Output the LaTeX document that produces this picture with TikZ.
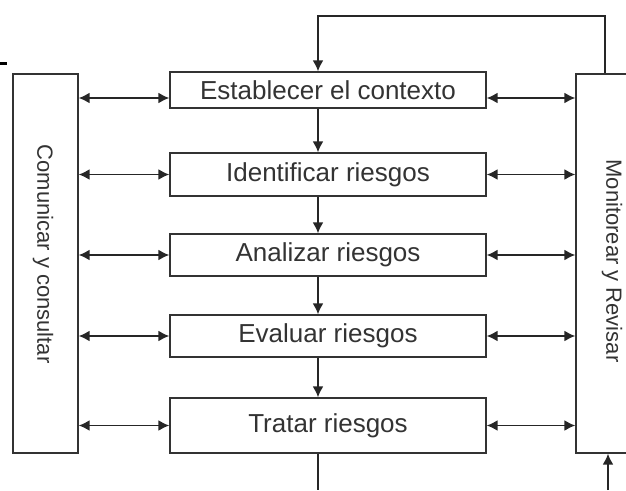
\documentclass[tikz,border=0pt]{standalone}
\usepackage{fontspec}
\setmainfont{Liberation Sans}
\usetikzlibrary{positioning,calc,arrows.meta}

\begin{document}
\begin{tikzpicture}[
    x=1pt, y=-1pt,
    font=\fontsize{26}{30}\selectfont,
    linea/.style={draw=black!85, line width=1.6pt},
    flecha/.style={linea, -{Latex[length=11pt,width=11pt]}},
    dflecha/.style={linea, {Latex[length=11pt,width=11pt]}-{Latex[length=11pt,width=11pt]}},
    paso/.style={rectangle, draw=black!80, line width=1.4pt, text=black!80,
    minimum width=316pt, inner sep=0pt},
    lado/.style={rectangle, draw=black!80, line width=1.4pt, text=black!80,
    minimum width=65pt, minimum height=379pt, inner sep=0pt},
    rotulo/.style={rotate=-90, text=black!80, font=\fontsize{22}{26}\selectfont}
    ]
\useasboundingbox (0,0) rectangle (626,490);
\clip (0,0) rectangle (626,490);

% pasos del centro
\node[paso, minimum height=36pt] (est) at (328,90) {Establecer el contexto};
\node[paso, minimum height=43pt] (ide) at (328,174.5) {Identificar riesgos};
\node[paso, minimum height=42pt] (ana) at (328,255) {Analizar riesgos};
\node[paso, minimum height=42pt] (eva) at (328,336) {Evaluar riesgos};
\node[paso, minimum height=55pt] (tra) at (328,425.5) {Tratar riesgos};

% cajas laterales
\node[lado] (com) at (45.5,263.5) {};
\node[rotulo] at (43,254) {Comunicar y consultar};
\node[lado] (mon) at (608.5,263.5) {};
\node[rotulo] at (612,261) {Monitorear y Revisar};

\coordinate (flujo) at (318,0);
\coordinate (arriba) at (605,16);
\coordinate (abajoA) at (318,490);
\coordinate (abajoB) at (608,490);

% flechas verticales
\draw[flecha] (est.south -| flujo) -- (ide.north -| flujo);
\draw[flecha] (ide.south -| flujo) -- (ana.north -| flujo);
\draw[flecha] (ana.south -| flujo) -- (eva.north -| flujo);
\draw[flecha] (eva.south -| flujo) -- (tra.north -| flujo);
\draw[linea] (tra.south -| flujo) -- (abajoA);
\draw[flecha] (abajoB) -- (abajoB |- mon.south);

% retorno superior
\draw[flecha] (arriba |- mon.north) -- (arriba) -| (est.north -| flujo);

% flechas dobles
\draw[dflecha] ($(com.east |- est.east)+(0,8)$) -- ($(est.west)+(0,8)$);
\draw[dflecha] ($(est.east)+(0,8)$) -- ($(mon.west |- est.east)+(0,8)$);
\foreach \n in {ide,ana,eva,tra}
{
    \draw[dflecha] (com.east |- \n.west) -- (\n.west);
    \draw[dflecha] (\n.east) -- (mon.west |- \n.east);
}

% marca suelta
\draw[black, line width=3pt] (0,63.5) -- (7,63.5);
\end{tikzpicture}
\end{document}
